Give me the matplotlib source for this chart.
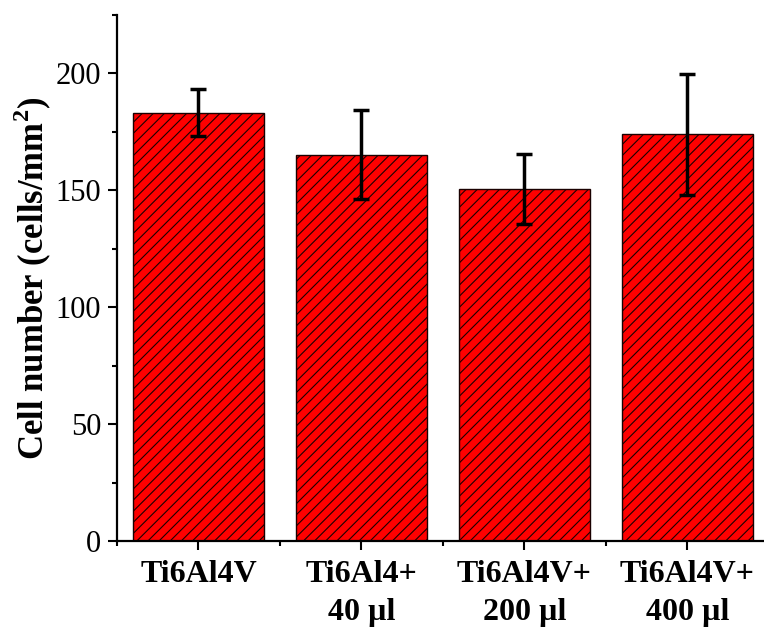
import matplotlib
matplotlib.use("Agg")
import matplotlib.pyplot as plt
from matplotlib.ticker import MultipleLocator, FixedLocator

categories = ["Ti6Al4V", "Ti6Al4+\n40 µl", "Ti6Al4V+\n200 µl", "Ti6Al4V+\n400 µl"]
values = [183.2, 165.3, 150.7, 173.9]
errors = [10.0, 19.0, 15.0, 26.0]

plt.rcParams['font.family'] = ['Liberation Serif', 'DejaVu Serif']
plt.rcParams['mathtext.fontset'] = 'custom'
plt.rcParams['mathtext.rm'] = 'Liberation Serif'
plt.rcParams['mathtext.bf'] = 'Liberation Serif:bold'
plt.rcParams['hatch.linewidth'] = 0.8

fig = plt.figure(figsize=(7.64, 6.28), dpi=100)
ax = fig.add_axes([117/764, 1 - 541/628, 1 - 117/764, (541 - 15)/628])

x = list(range(1, len(categories) + 1))
ax.bar(x, values, width=0.8, color='#ff0000', edgecolor='#1a0000',
       linewidth=1.0, hatch='///', zorder=2)
ax.errorbar(x, values, yerr=errors, fmt='none', ecolor='black',
            elinewidth=2.5, capsize=6, capthick=2.5, zorder=3)

ax.set_xlim(0.5, 4.47)
ax.set_ylim(0, 225)
ax.yaxis.set_major_locator(MultipleLocator(50))
ax.yaxis.set_minor_locator(MultipleLocator(25))
ax.set_xticks(x)
ax.set_xticklabels(categories, fontweight='bold', fontsize=23, linespacing=1.4)
ax.xaxis.set_minor_locator(FixedLocator([0.5, 1.5, 2.5, 3.5, 4.5]))

for s in ['top', 'right']:
    ax.spines[s].set_visible(False)
for s in ['left', 'bottom']:
    ax.spines[s].set_linewidth(1.6)

ax.tick_params(axis='both', which='major', direction='out', length=6.5, width=1.5)
ax.tick_params(axis='y', which='major', labelsize=22, pad=5)
ax.tick_params(axis='x', which='major', pad=7)
ax.tick_params(axis='both', which='minor', direction='out', length=3.6, width=1.5)

ax.set_ylabel(r'Cell number (cells/mm$^{\mathbf{2}}$)', fontsize=25, fontweight='bold')
ax.yaxis.set_label_coords(-0.098, 0.5)

fig.savefig('out.png', dpi=100)
